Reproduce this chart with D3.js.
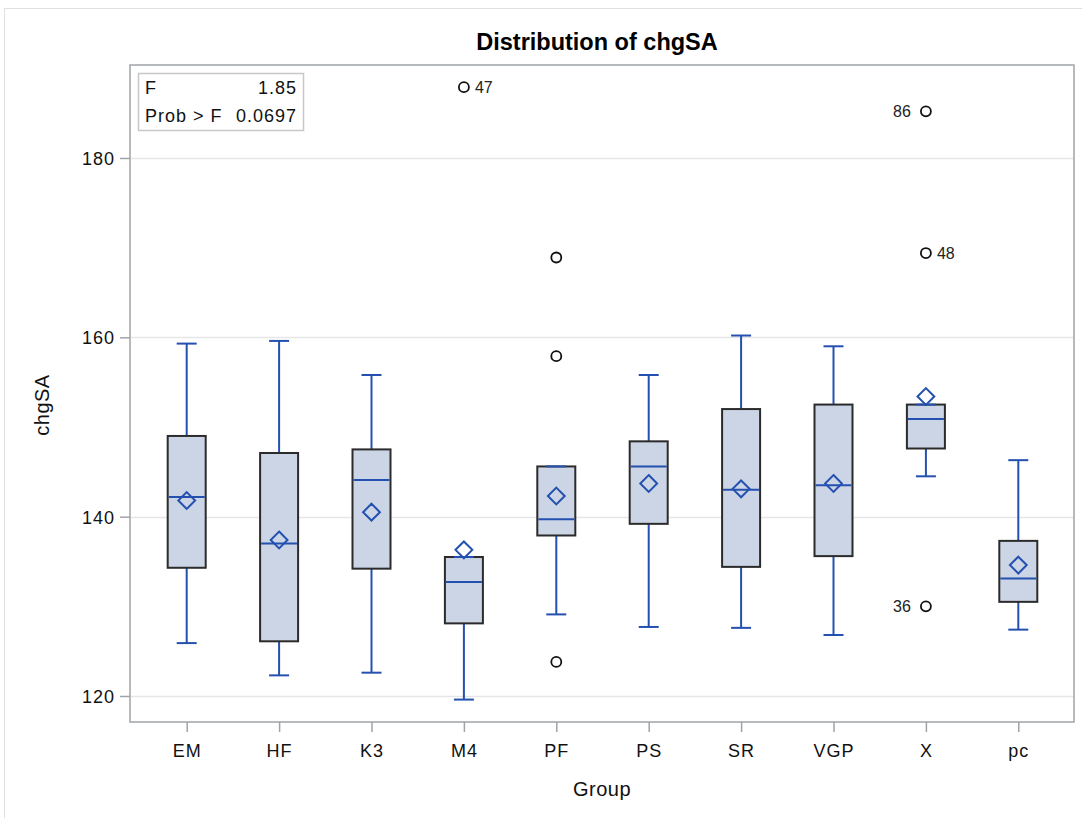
<!DOCTYPE html>
<html>
<head>
<meta charset="utf-8">
<script src="https://cdn.jsdelivr.net/npm/d3@7"></script>
<style>
  body { margin: 0; background: #fff; }
  svg { font-family: "Liberation Sans", Arial, sans-serif; }
</style>
</head>
<body>
<div id="chart"></div>
<script>
// box plot stats
const groups = ['EM', 'HF', 'K3', 'M4', 'PF', 'PS', 'SR', 'VGP', 'X', 'pc'];
const whiskerLow = [125.9, 122.3, 122.6, 119.6, 129.1, 127.7, 127.6, 126.8, 144.5, 127.4];
const q1 = [134.3, 126.1, 134.2, 128.1, 137.9, 139.2, 134.4, 135.6, 147.6, 130.5];
const medians = [142.2, 137.0, 144.1, 132.7, 139.7, 145.6, 143.0, 143.5, 150.9, 133.1];
const q3 = [149.0, 147.1, 147.5, 135.5, 145.6, 148.4, 152.0, 152.5, 152.5, 137.3];
const whiskerHigh = [159.3, 159.6, 155.8, 135.5, 145.6, 155.8, 160.2, 159.0, 152.5, 146.3];
const means = [141.8, 137.4, 140.5, 136.3, 142.3, 143.7, 143.1, 143.7, 153.4, 134.6];

const outlierGroups = ['M4', 'PF', 'PF', 'PF', 'X', 'X', 'X'];
const outlierValues = [187.9, 168.9, 157.9, 123.8, 185.2, 169.4, 130.0];
const outlierLabels = ['47', '', '', '', '86', '48', '36'];
const outlierLabelSide = ['right', '', '', '', 'left', 'right', 'left'];

const yTicks = [120, 140, 160, 180];
const statLabels = ['F', 'Prob > F'];
const statValues = ['1.85', '0.0697'];

const W = 1082, H = 818;
const frame = { left: 130, right: 1074, top: 65, bottom: 722 };

const blue = '#2450b0';
const fill = '#cbd5e6';
const font = '"Liberation Sans", Arial, sans-serif';

const svg = d3.select('#chart').append('svg')
    .attr('width', W)
    .attr('height', H);

// outer border of the graph
svg.append('rect')
    .attr('x', 4.5).attr('y', 8.5)
    .attr('width', W + 10).attr('height', H + 10)
    .attr('fill', 'none')
    .attr('stroke', '#e0e0e0');

const x = d3.scalePoint()
    .domain(groups)
    .range([frame.left + 10.5, frame.right - 9.5])
    .padding(0.5);

const y = d3.scaleLinear()
    .domain([117.1, 190.37])
    .range([frame.bottom, frame.top]);

// gridlines
svg.append('g')
    .selectAll('line')
    .data(yTicks)
    .join('line')
    .attr('x1', frame.left).attr('x2', frame.right)
    .attr('y1', d => Math.round(y(d)) + 0.5)
    .attr('y2', d => Math.round(y(d)) + 0.5)
    .attr('stroke', '#e6e6e6')
    .attr('stroke-width', 1.5);

// axes
const xAxis = svg.append('g')
    .attr('transform', `translate(0,${frame.bottom})`)
    .call(d3.axisBottom(x).tickSize(10).tickPadding(12));

const yAxis = svg.append('g')
    .attr('transform', `translate(${frame.left},0)`)
    .call(d3.axisLeft(y).tickValues(yTicks).tickSize(10).tickPadding(5));

[xAxis, yAxis].forEach(g => {
    g.select('.domain').remove();
    g.selectAll('.tick line').attr('stroke', '#a0a4a8').attr('stroke-width', 1.5);
    g.selectAll('.tick text')
        .attr('fill', '#111')
        .attr('font-size', 18)
        .attr('letter-spacing', 1)
        .attr('font-family', font);
});
yAxis.selectAll('.tick text').attr('dy', '0.36em');

// plot frame
svg.append('rect')
    .attr('x', frame.left).attr('y', frame.top)
    .attr('width', frame.right - frame.left)
    .attr('height', frame.bottom - frame.top)
    .attr('fill', 'none')
    .attr('stroke', '#a0a4a8')
    .attr('stroke-width', 1.5);

const bw = 38;
const capW = 20;

const boxes = svg.append('g')
    .selectAll('g')
    .data(groups.map((g, i) => ({
        g, lo: whiskerLow[i], q1: q1[i], med: medians[i], q3: q3[i], hi: whiskerHigh[i], mean: means[i]
    })))
    .join('g')
    .attr('transform', d => `translate(${x(d.g)},0)`);

// whiskers
boxes.append('line')
    .attr('x1', 0).attr('x2', 0)
    .attr('y1', d => y(d.lo)).attr('y2', d => y(d.q1))
    .attr('stroke', blue).attr('stroke-width', 2);
boxes.append('line')
    .attr('x1', 0).attr('x2', 0)
    .attr('y1', d => y(d.q3)).attr('y2', d => y(d.hi))
    .attr('stroke', blue).attr('stroke-width', 2);

// box
boxes.append('rect')
    .attr('x', -bw / 2)
    .attr('y', d => y(d.q3))
    .attr('width', bw)
    .attr('height', d => y(d.q1) - y(d.q3))
    .attr('fill', fill)
    .attr('stroke', '#2b2b2b')
    .attr('stroke-width', 2);

// caps
boxes.append('line')
    .attr('x1', -capW / 2).attr('x2', capW / 2)
    .attr('y1', d => y(d.lo)).attr('y2', d => y(d.lo))
    .attr('stroke', blue).attr('stroke-width', 2);
boxes.append('line')
    .attr('x1', -capW / 2).attr('x2', capW / 2)
    .attr('y1', d => y(d.hi)).attr('y2', d => y(d.hi))
    .attr('stroke', blue).attr('stroke-width', 2);

// median
boxes.append('line')
    .attr('x1', -bw / 2 + 1).attr('x2', bw / 2 - 1)
    .attr('y1', d => y(d.med)).attr('y2', d => y(d.med))
    .attr('stroke', blue).attr('stroke-width', 2);

// mean diamond
boxes.append('path')
    .attr('d', d3.symbol(d3.symbolDiamond2, 180))
    .attr('transform', d => `translate(0,${y(d.mean)})`)
    .attr('fill', 'none')
    .attr('stroke', blue)
    .attr('stroke-width', 2);

// outliers
const outliers = svg.append('g')
    .selectAll('g')
    .data(outlierValues.map((v, i) => ({
        g: outlierGroups[i], v, label: outlierLabels[i], side: outlierLabelSide[i]
    })))
    .join('g')
    .attr('transform', d => `translate(${x(d.g)},${y(d.v)})`);

outliers.append('circle')
    .attr('r', 5)
    .attr('fill', 'none')
    .attr('stroke', '#111')
    .attr('stroke-width', 1.8);

outliers.filter(d => d.label)
    .append('text')
    .attr('x', d => d.side === 'right' ? 11 : -15)
    .attr('y', 5.5)
    .attr('text-anchor', d => d.side === 'right' ? 'start' : 'end')
    .attr('font-size', 16)
    .attr('fill', '#222')
    .text(d => d.label);

// stats inset
const inset = svg.append('g');
inset.append('rect')
    .attr('x', 138.5).attr('y', 73.5)
    .attr('width', 165).attr('height', 57)
    .attr('fill', '#fff')
    .attr('stroke', '#c8c8c8')
    .attr('stroke-width', 1.5);
statLabels.forEach((lab, i) => {
    inset.append('text')
        .attr('x', 145).attr('y', 94 + i * 28)
        .attr('font-size', 18).attr('letter-spacing', 1).attr('fill', '#111')
        .text(lab);
    inset.append('text')
        .attr('x', 297).attr('y', 94 + i * 28)
        .attr('text-anchor', 'end')
        .attr('font-size', 18).attr('letter-spacing', 1).attr('fill', '#111')
        .text(statValues[i]);
});

// title and axis labels
svg.append('text')
    .attr('x', 597).attr('y', 50)
    .attr('text-anchor', 'middle')
    .attr('font-size', 23.5)
    .attr('font-weight', 'bold')
    .attr('fill', '#000')
    .text('Distribution of chgSA');

svg.append('text')
    .attr('x', 602).attr('y', 796)
    .attr('text-anchor', 'middle')
    .attr('font-size', 20)
    .attr('letter-spacing', 0.5)
    .attr('fill', '#111')
    .text('Group');

svg.append('text')
    .attr('transform', `translate(49,405) rotate(-90)`)
    .attr('text-anchor', 'middle')
    .attr('font-size', 20)
    .attr('letter-spacing', 0.5)
    .attr('fill', '#111')
    .text('chgSA');
</script>
</body>
</html>
